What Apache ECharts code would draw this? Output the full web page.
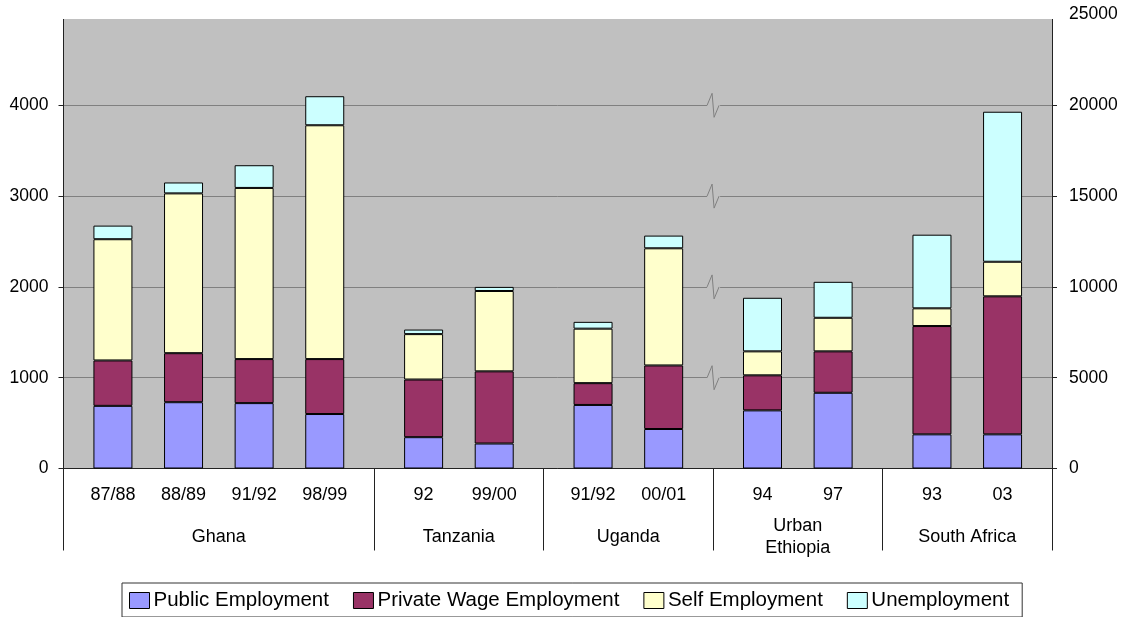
<!DOCTYPE html>
<html>
<head>
<meta charset="utf-8">
<script src="https://cdn.jsdelivr.net/npm/echarts@6/dist/echarts.min.js"></script>
<style>
  html, body { margin: 0; padding: 0; background: #fff; }
  #chart { width: 1127px; height: 617px; }
</style>
</head>
<body>
<div id="chart"></div>
<script>
const groupNames = ['Ghana', 'Tanzania', 'Uganda', 'Urban\nEthiopia', 'South Africa'];
const periods = [
  ['87/88', '88/89', '91/92', '98/99'],
  ['92', '99/00'],
  ['91/92', '00/01'],
  ['94', '97'],
  ['93', '03']
];
// 0 = read against left axis, 1 = right axis
const groupAxis = [0, 0, 0, 1, 1];

const seriesNames = ['Public Employment', 'Private Wage Employment', 'Self Employment', 'Unemployment'];
const publicEmp    = [690, 730, 720, 600, 345, 275, 700, 435, 3200, 4170, 1880, 1880];
const privateWage  = [500, 540, 485, 605, 635, 795, 240, 700, 1930, 2280, 5965, 7600];
const selfEmp      = [1335, 1760, 1885, 2575, 500, 885, 600, 1290, 1320, 1850, 975, 1905];
const unemployment = [150, 120, 250, 320, 50, 45, 75, 140, 2950, 1980, 4055, 8260];

const colors = ['#9999FF', '#993366', '#FFFFCC', '#CCFFFF'];
const font = '"Liberation Sans", Arial, sans-serif';

// category slots: a narrow pad at each group edge, each bar sits in the middle of 5 slots
const slots = [];
const groupStarts = [];
let barNo = 0;
groupNames.forEach((g, gi) => {
  const start = slots.length;
  groupStarts.push(start);
  slots.push({});
  periods[gi].forEach(p => {
    slots.push({}, {});
    slots.push({ year: p, bar: barNo++, axis: groupAxis[gi] });
    slots.push({}, {});
  });
  slots.push({});
  slots[start + (slots.length - start) / 2 - 1].group = g;
});
const cats = slots.map((s, i) => 'c' + i);

const stacks = [publicEmp, privateWage, selfEmp, unemployment];
const series = [];
[0, 1].forEach(ax => {
  seriesNames.forEach((name, si) => {
    series.push({
      name: name,
      type: 'bar',
      stack: 'axis' + ax,
      yAxisIndex: ax,
      barWidth: 39,
      barGap: '-100%',
      itemStyle: { color: colors[si], borderColor: '#000', borderWidth: 1 },
      emphasis: { disabled: true },
      data: slots.map(s => (s.bar !== undefined && s.axis === ax) ? stacks[si][s.bar] : null)
    });
  });
});

const chart = echarts.init(document.getElementById('chart'));

const option = {
  animation: false,
  backgroundColor: '#fff',
  textStyle: { fontFamily: font },
  grid: {
    left: 63.5,
    right: 75,
    top: 14.5,
    bottom: 148.5,
    show: true,
    backgroundColor: '#C0C0C0',
    borderWidth: 0
  },
  legend: {
    data: seriesNames,
    left: 122,
    top: 583,
    orient: 'horizontal',
    itemWidth: 20,
    itemHeight: 16,
    itemGap: 24,
    padding: [7, 13, 6, 7],
    borderColor: '#333',
    borderWidth: 1,
    icon: 'rect',
    itemStyle: { borderColor: '#000', borderWidth: 1 },
    textStyle: { fontSize: 20.5, color: '#000', fontFamily: font, lineHeight: 20, padding: [0, 0, 0, -1] }
  },
  xAxis: [
    {
      type: 'category',
      data: cats,
      boundaryGap: true,
      axisLine: { lineStyle: { color: '#222', width: 1 } },
      axisTick: {
        show: true,
        length: 82,
        interval: idx => groupStarts.includes(idx),
        lineStyle: { color: '#222' }
      },
      axisLabel: {
        interval: 0,
        formatter: (v, i) => slots[i].year || '',
        fontSize: 18,
        color: '#000',
        margin: 27,
        verticalAlign: 'middle'
      },
      splitLine: { show: false }
    },
    {
      type: 'category',
      data: cats,
      position: 'bottom',
      boundaryGap: true,
      axisLine: { show: false },
      axisTick: { show: false },
      axisLabel: {
        interval: 0,
        formatter: (v, i) => slots[i].group || '',
        fontSize: 18,
        lineHeight: 22,
        color: '#000',
        margin: 69,
        verticalAlign: 'middle',
        padding: [0, 0, 0, 14]
      },
      splitLine: { show: false }
    }
  ],
  yAxis: [
    {
      type: 'value',
      min: 0,
      max: 5000,
      interval: 1000,
      axisLine: { show: true, lineStyle: { color: '#222' } },
      axisTick: { show: true, length: 5, lineStyle: { color: '#222' } },
      axisLabel: { fontSize: 17.5, color: '#000', margin: 15, formatter: v => String(v) },
      splitLine: { show: true, lineStyle: { color: '#808080', width: 1 } }
    },
    {
      type: 'value',
      position: 'right',
      min: 0,
      max: 25000,
      interval: 5000,
      axisLine: { show: true, lineStyle: { color: '#222' } },
      axisTick: { show: true, length: 5, lineStyle: { color: '#222' } },
      axisLabel: { fontSize: 17.5, color: '#000', margin: 17, formatter: v => String(v) },
      splitLine: { show: false }
    }
  ],
  series: series
};

chart.setOption(option);

// scale-break marks where the right-axis groups begin, and the cropped top strip
const firstRight = groupAxis.indexOf(1);
const bx = (chart.convertToPixel({ xAxisIndex: 0 }, cats[groupStarts[firstRight] - 1]) +
            chart.convertToPixel({ xAxisIndex: 0 }, cats[groupStarts[firstRight]])) / 2;
const graphics = [];
for (let v = 1000; v < 5000; v += 1000) {
  const y = chart.convertToPixel({ yAxisIndex: 0 }, v);
  graphics.push({
    type: 'rect', z: 50,
    shape: { x: bx - 6, y: y - 2, width: 13, height: 4 },
    style: { fill: '#C0C0C0' }
  });
  graphics.push({
    type: 'polyline', z: 51,
    shape: { points: [[bx - 6, y], [bx - 1, y - 12], [bx + 1, y + 12], [bx + 6, y]] },
    style: { stroke: '#808080', lineWidth: 1, fill: null }
  });
}
graphics.push({
  type: 'rect', z: 100,
  shape: { x: 0, y: 0, width: 1058, height: 19 },
  style: { fill: '#fff' }
});
chart.setOption({ graphic: graphics });
</script>
</body>
</html>
